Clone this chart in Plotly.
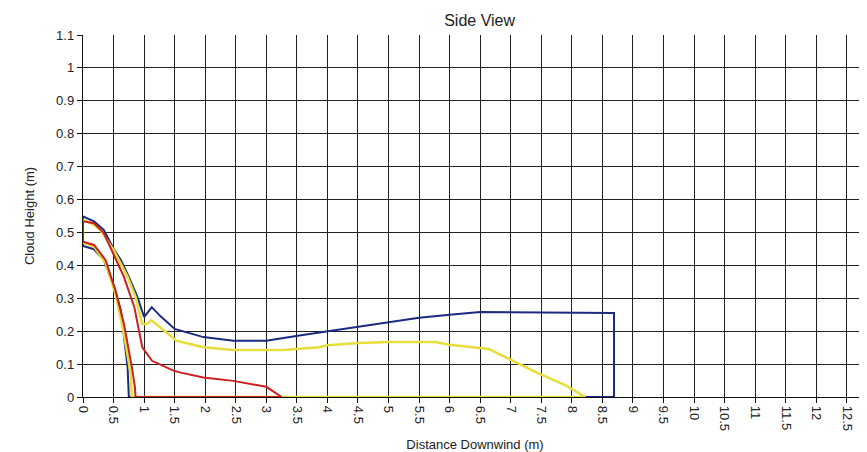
import plotly.graph_objects as go

# Blue (outer) contour, closed polygon
blue_x = [0, 0.18, 0.34, 0.51, 0.62, 0.75, 0.89, 1.0, 1.125, 1.27, 1.5, 1.97, 2.46, 3.0, 3.54, 4.0, 4.5, 5.0, 5.5, 6.0, 6.5, 8.69,
          8.69, 0.75, 0.73, 0.62, 0.51, 0.34, 0.18, 0, 0]
blue_y = [0.549, 0.534, 0.508, 0.447, 0.416, 0.365, 0.304, 0.243, 0.273, 0.245, 0.207, 0.182, 0.171, 0.171, 0.187, 0.2, 0.214, 0.229, 0.241, 0.25, 0.258, 0.255,
          0, 0, 0.09, 0.263, 0.335, 0.416, 0.449, 0.459, 0.549]

# Yellow (middle) contour
yellow_x = [0, 0.18, 0.28, 0.5, 0.73, 0.86, 0.97, 1.04, 1.12, 1.24, 1.53, 1.97, 2.46, 3.27, 3.87, 4.0, 4.52, 5.0, 5.5, 5.77, 6.0, 6.48, 6.64, 7.02, 7.46, 7.9, 8.22,
            0.80, 0.78, 0.67, 0.53, 0.37, 0.18, 0, 0]
yellow_y = [0.539, 0.523, 0.508, 0.447, 0.365, 0.304, 0.222, 0.222, 0.233, 0.214, 0.171, 0.151, 0.143, 0.143, 0.151, 0.157, 0.164, 0.167, 0.168, 0.167, 0.159, 0.149, 0.146, 0.111, 0.071, 0.035, 0,
            0, 0.069, 0.192, 0.314, 0.406, 0.457, 0.469, 0.539]

# Red (inner) contour
red_x = [0, 0.18, 0.34, 0.51, 0.67, 0.84, 0.97, 1.13, 1.48, 1.6, 1.97, 2.46, 3.0, 3.25,
         0.86, 0.85, 0.8, 0.67, 0.53, 0.37, 0.18, 0, 0]
red_y = [0.534, 0.528, 0.498, 0.427, 0.365, 0.273, 0.151, 0.11, 0.08, 0.074, 0.059, 0.049, 0.031, 0,
         0, 0.029, 0.09, 0.222, 0.324, 0.416, 0.462, 0.472, 0.534]

x_ticks = [i * 0.5 for i in range(26)]
x_labels = ["0", "0.5", "1", "1.5", "2", "2.5", "3", "3.5", "4", "4.5", "5", "5.5", "6", "6.5",
            "7", "7.5", "8", "8.5", "9", "9.5", "10", "10.5", "11", "11.5", "12", "12.5"]
y_ticks = [i / 10 for i in range(12)]
y_labels = ["0", "0.1", "0.2", "0.3", "0.4", "0.5", "0.6", "0.7", "0.8", "0.9", "1", "1.1"]

fig = go.Figure()
fig.add_trace(go.Scatter(x=blue_x, y=blue_y, mode="lines", line=dict(color="#1c2a82", width=2), showlegend=False))
fig.add_trace(go.Scatter(x=yellow_x, y=yellow_y, mode="lines", line=dict(color="#e6de3a", width=2.5), showlegend=False))
fig.add_trace(go.Scatter(x=red_x, y=red_y, mode="lines", line=dict(color="#cc1f1f", width=2), showlegend=False))

font = "Liberation Sans, Arial, sans-serif"
# page has an 8px body margin; figure sized/offset to compensate
fig.update_layout(
    width=859, height=444,
    margin=dict(l=75, r=0, t=27, b=55),
    paper_bgcolor="white", plot_bgcolor="white",
    title=dict(text="Side View", x=0.549, xanchor="center", y=0.973, yanchor="middle",
               font=dict(family=font, size=16, color="#222")),
    font=dict(family=font, size=13, color="#222"),
)
fig.update_xaxes(
    range=[0, 12.83], tickvals=x_ticks, ticktext=x_labels, tickangle=90,
    showgrid=True, gridcolor="#222", gridwidth=1.4,
    showline=True, linecolor="#111", linewidth=1.4,
    ticks="outside", ticklen=5, tickcolor="#111",
    zeroline=False, layer="below traces", automargin=False,
    title=dict(text="Distance Downwind (m)", font=dict(family=font, size=13), standoff=11),
)
fig.update_yaxes(
    range=[0, 1.1], tickvals=y_ticks, ticktext=y_labels,
    showgrid=True, gridcolor="#222", gridwidth=1.4,
    showline=True, linecolor="#111", linewidth=1.4,
    ticks="outside", ticklen=5, tickcolor="#111",
    zeroline=False, layer="below traces", automargin=False,
    title=dict(text="Cloud Height (m)", font=dict(family=font, size=13), standoff=18),
)

fig.write_html("out.html")
